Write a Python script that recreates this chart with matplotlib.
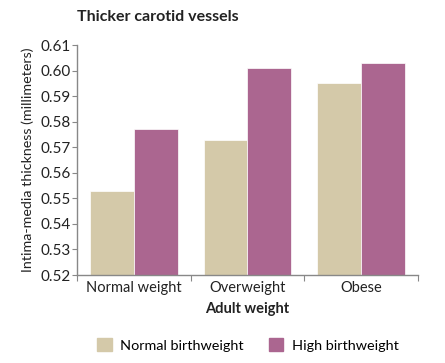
import numpy as np
import matplotlib.pyplot as plt
from matplotlib.patches import Patch

plt.rcParams['font.family'] = ['Lato', 'DejaVu Sans']

# 数据
categories = ['Normal weight', 'Overweight', 'Obese']
normal_bw = [0.553, 0.573, 0.595]
high_bw = [0.577, 0.601, 0.603]
series_names = ['Normal birthweight', 'High birthweight']
colors = ['#d4c9a9', '#ab6690']

fig = plt.figure(figsize=(4.45, 3.63), dpi=100)
ax = fig.add_axes([0.173, 0.2424, 0.766, 0.6336])

x = np.arange(len(categories))
w = 0.385
ax.bar(x - w / 2, normal_bw, w, color=colors[0], edgecolor='white', linewidth=0.5)
ax.bar(x + w / 2, high_bw, w, color=colors[1], edgecolor='white', linewidth=0.5)

ax.set_ylim(0.52, 0.61)
ax.set_xlim(-0.5, 2.5)
yt = np.arange(0.52, 0.6101, 0.01)
ax.set_yticks(yt)
ax.set_yticklabels(['%.2f' % v for v in yt], fontsize=11, color='#222222')

# x轴刻度在分组边界处，标签在中间
ax.set_xticks([-0.5, 0.5, 1.5, 2.5])
ax.set_xticklabels([])
ax.set_xticks(x, minor=True)
ax.set_xticklabels(categories, minor=True, fontsize=10.5, color='#222222')
ax.tick_params(axis='x', which='minor', length=0, pad=4)
ax.tick_params(axis='x', which='major', length=4, color='#888888')
ax.tick_params(axis='y', length=3.5, color='#888888', pad=1)

for s in ['top', 'right']:
    ax.spines[s].set_visible(False)
for s in ['left', 'bottom']:
    ax.spines[s].set_color('#888888')
    ax.spines[s].set_linewidth(1.0)

ax.set_ylabel('Intima-media thickness (millimeters)', fontsize=10.3, color='#222222', labelpad=5)
ax.set_xlabel('Adult weight', fontsize=10.5, fontweight='bold', color='#222222', labelpad=5.5)
fig.text(0.173, 0.943, 'Thicker carotid vessels', fontsize=11.5, fontweight='bold', color='#222222')

handles = [Patch(color=colors[0]), Patch(color=colors[1])]
fig.legend(handles, series_names, loc='center', bbox_to_anchor=(0.557, 0.05), ncol=2,
           frameon=False, fontsize=10.4, handlelength=1.0, handleheight=1.0,
           columnspacing=1.7, handletextpad=0.6)

plt.savefig('out.png')
